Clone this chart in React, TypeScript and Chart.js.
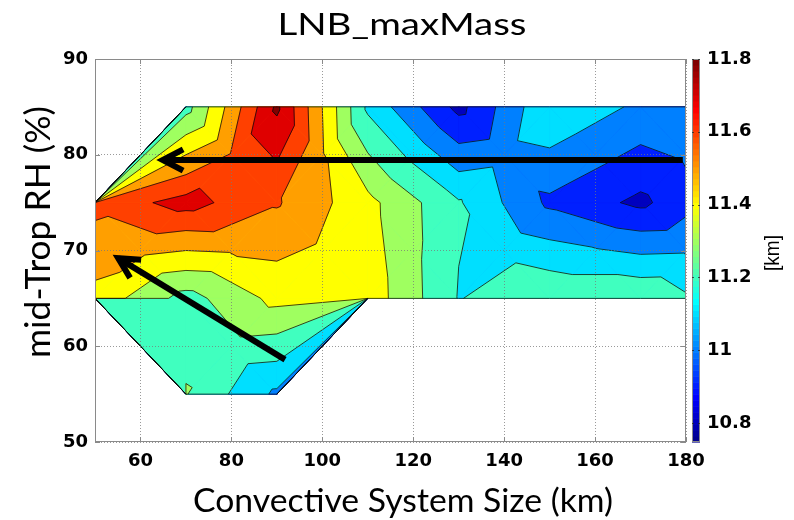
import { useEffect, useRef } from 'react';
import { Chart, registerables } from 'chart.js';

Chart.register(...registerables);

// Grid of convective system size (km) by mid-tropospheric RH (%)
const SIZE_KM = [50, 70, 90, 110, 130, 150, 170, 190];
const RH_PCT = [55, 65, 75, 85];

// Level of neutral buoyancy at max mass flux (km); NaN = no samples
const LNB_RH55 = [NaN, 11.305, 11.08, NaN, NaN, NaN, NaN, NaN];
const LNB_RH65 = [11.47, 11.26, 11.43, 11.46, 11.195, 11.29, 11.29, 11.14];
const LNB_RH75 = [11.63, 11.74, 11.61, 11.43, 11.21, 10.98, 10.877, 11.05];
const LNB_RH85 = [NaN, 11.26, 11.82, 11.18, 10.87, 11.19, 11.08, 11.05];

const CONTOUR_LEVELS = [10.8, 10.9, 11.0, 11.1, 11.2, 11.3, 11.4, 11.5, 11.6, 11.7, 11.8];
const COLOR_MIN = 10.748;
const COLOR_MAX = 11.8;

const X_TICKS = [60, 80, 100, 120, 140, 160, 180];
const Y_TICKS = [50, 60, 70, 80, 90];
const CB_TICKS = [10.8, 11, 11.2, 11.4, 11.6, 11.8];

// Annotation arrows (data coordinates)
const ARROW_TAIL_X = [179.3, 91.8];
const ARROW_TAIL_Y = [79.45, 58.6];
const ARROW_TIP_X = [64.9, 55.1];
const ARROW_TIP_Y = [79.45, 69.2];

const GRID_ROWS = [LNB_RH55, LNB_RH65, LNB_RH75, LNB_RH85];

type Vtx = { x: number; y: number; v: number; on?: boolean };

// MATLAB-style 64-entry jet colormap
function jet64(i: number): string {
  const u = (k: number) => (k < 1 || k > 47 ? 0 : k <= 16 ? k / 16 : k <= 31 ? 1 : (48 - k) / 16);
  const r = Math.round(u(i - 24) * 255);
  const g = Math.round(u(i - 8) * 255);
  const b = Math.round(u(i + 8) * 255);
  return `rgb(${r},${g},${b})`;
}

function colorFor(v: number): string {
  const idx = Math.min(64, Math.max(1, Math.floor(((v - COLOR_MIN) / (COLOR_MAX - COLOR_MIN)) * 64) + 1));
  return jet64(idx);
}

function crossing(a: Vtx, b: Vtx, level: number): Vtx {
  if (!Number.isFinite(a.v)) return { x: b.x, y: b.y, v: level, on: true };
  if (!Number.isFinite(b.v)) return { x: a.x, y: a.y, v: level, on: true };
  const t = (level - a.v) / (b.v - a.v);
  return { x: a.x + t * (b.x - a.x), y: a.y + t * (b.y - a.y), v: level, on: true };
}

function clipAbove(poly: Vtx[], level: number): Vtx[] {
  const out: Vtx[] = [];
  for (let k = 0; k < poly.length; k++) {
    const a = poly[k];
    const b = poly[(k + 1) % poly.length];
    const ia = a.v >= level;
    const ib = b.v >= level;
    if (ia) out.push({ x: a.x, y: a.y, v: a.v });
    if (ia !== ib) out.push(crossing(a, b, level));
  }
  return out;
}

// Region of a patch at or above a level; saddle cells keep the high corners apart
function regionsAbove(poly: Vtx[], level: number): Vtx[][] {
  const p = clipAbove(poly, level);
  if (p.length < 3) return [];
  const n = p.length;
  const onCount = p.filter((q) => q.on).length;
  if (onCount === 4) {
    let start = 0;
    for (let i = 0; i < n; i++) {
      if (p[i].on && p[(i - 1 + n) % n].on) {
        start = i;
        break;
      }
    }
    const rot = [...p.slice(start), ...p.slice(0, start)];
    for (let i = 1; i < rot.length - 1; i++) {
      if (rot[i].on && rot[i + 1].on) return [rot.slice(0, i + 1), rot.slice(i + 1)];
    }
  }
  return [p];
}

// Split the grid into patches: full cells into 4 triangles around the cell mean,
// cells with one missing corner keep that corner at -Infinity
function buildPatches() {
  const patches: Vtx[][] = [];
  const edges = new Map<string, [Vtx, Vtx]>();
  const counts = new Map<string, number>();
  for (let j = 0; j < RH_PCT.length - 1; j++) {
    for (let i = 0; i < SIZE_KM.length - 1; i++) {
      const corners: Vtx[] = [
        { x: SIZE_KM[i], y: RH_PCT[j], v: GRID_ROWS[j][i] },
        { x: SIZE_KM[i + 1], y: RH_PCT[j], v: GRID_ROWS[j][i + 1] },
        { x: SIZE_KM[i + 1], y: RH_PCT[j + 1], v: GRID_ROWS[j + 1][i + 1] },
        { x: SIZE_KM[i], y: RH_PCT[j + 1], v: GRID_ROWS[j + 1][i] },
      ];
      const valid = corners.filter((c) => Number.isFinite(c.v));
      if (valid.length < 3) continue;
      for (let k = 0; k < valid.length; k++) {
        const a = valid[k];
        const b = valid[(k + 1) % valid.length];
        const key = [a, b]
          .map((q) => `${q.x},${q.y}`)
          .sort()
          .join('|');
        counts.set(key, (counts.get(key) || 0) + 1);
        edges.set(key, [a, b]);
      }
      if (valid.length === 3) {
        patches.push(corners.map((c) => (Number.isFinite(c.v) ? c : { ...c, v: -Infinity })));
      } else {
        const mid: Vtx = {
          x: (corners[0].x + corners[1].x) / 2,
          y: (corners[0].y + corners[3].y) / 2,
          v: corners.reduce((s, c) => s + c.v, 0) / 4,
        };
        for (let k = 0; k < 4; k++) patches.push([corners[k], corners[(k + 1) % 4], mid]);
      }
    }
  }
  const outline: [Vtx, Vtx][] = [];
  counts.forEach((n, key) => {
    if (n === 1) outline.push(edges.get(key)!);
  });
  return { patches, outline };
}

const contourPlugin = {
  id: 'filledContour',
  beforeDatasetsDraw(chart: any) {
    const { ctx, chartArea, scales } = chart;
    const xs = scales.x;
    const ys = scales.y;
    const px = (p: Vtx) => [xs.getPixelForValue(p.x), ys.getPixelForValue(p.y)];
    const { patches, outline } = buildPatches();

    ctx.save();
    ctx.beginPath();
    ctx.rect(chartArea.left, chartArea.top, chartArea.right - chartArea.left, chartArea.bottom - chartArea.top);
    ctx.clip();
    ctx.lineJoin = 'round';

    const fillRegions = (level: number, color: string) => {
      ctx.fillStyle = color;
      ctx.strokeStyle = color;
      ctx.lineWidth = 0.7;
      for (const poly of patches) {
        for (const part of regionsAbove(poly, level)) {
          if (part.length < 3) continue;
          ctx.beginPath();
          part.forEach((p, k) => {
            const [X, Y] = px(p);
            if (k === 0) ctx.moveTo(X, Y);
            else ctx.lineTo(X, Y);
          });
          ctx.closePath();
          ctx.fill();
          ctx.stroke();
        }
      }
    };

    // stacked fills: whole domain first, then each level on top
    fillRegions(-1e9, colorFor(COLOR_MIN));
    for (const lv of CONTOUR_LEVELS) fillRegions(lv, colorFor(lv));

    ctx.strokeStyle = 'rgba(10,10,10,0.9)';
    ctx.lineWidth = 0.85;
    ctx.beginPath();
    for (const poly of patches) {
      for (const lv of CONTOUR_LEVELS) {
        for (const part of regionsAbove(poly, lv)) {
          for (let k = 0; k < part.length; k++) {
            const a = part[k];
            const b = part[(k + 1) % part.length];
            if (a.on && b.on) {
              const [x1, y1] = px(a);
              const [x2, y2] = px(b);
              ctx.moveTo(x1, y1);
              ctx.lineTo(x2, y2);
            }
          }
        }
      }
    }
    for (const [a, b] of outline) {
      const [x1, y1] = px(a);
      const [x2, y2] = px(b);
      ctx.moveTo(x1, y1);
      ctx.lineTo(x2, y2);
    }
    ctx.stroke();
    ctx.restore();
  },
};

function drawFittedText(
  ctx: CanvasRenderingContext2D,
  text: string,
  x: number,
  y: number,
  font: string,
  width: number,
  rotation: number,
) {
  ctx.save();
  ctx.font = font;
  const w = ctx.measureText(text).width;
  ctx.translate(x, y);
  ctx.rotate(rotation);
  ctx.scale(width / w, 1);
  ctx.textAlign = 'center';
  ctx.textBaseline = 'alphabetic';
  ctx.fillStyle = '#000';
  ctx.fillText(text, 0, 0);
  ctx.restore();
}

const overlayPlugin = {
  id: 'overlay',
  afterDraw(chart: any) {
    const { ctx, chartArea, scales } = chart;
    const { left, right, top, bottom } = chartArea;
    const xs = scales.x;
    const ys = scales.y;
    const cb = scales.cb;

    // axes box with inward ticks
    ctx.save();
    ctx.strokeStyle = '#8a8a8a';
    ctx.lineWidth = 1;
    ctx.strokeRect(left + 0.5, top + 0.5, right - left - 1, bottom - top - 1);
    ctx.beginPath();
    for (const t of X_TICKS) {
      const X = Math.round(xs.getPixelForValue(t)) + 0.5;
      ctx.moveTo(X, bottom);
      ctx.lineTo(X, bottom - 5);
      ctx.moveTo(X, top);
      ctx.lineTo(X, top + 5);
    }
    for (const t of Y_TICKS) {
      const Y = Math.round(ys.getPixelForValue(t)) + 0.5;
      ctx.moveTo(left, Y);
      ctx.lineTo(left + 5, Y);
      ctx.moveTo(right, Y);
      ctx.lineTo(right - 5, Y);
    }
    ctx.stroke();

    // colour bar
    const cbL = right + 6;
    const cbW = 8;
    for (let i = 0; i < 64; i++) {
      const v0 = COLOR_MIN + ((COLOR_MAX - COLOR_MIN) * i) / 64;
      const v1 = COLOR_MIN + ((COLOR_MAX - COLOR_MIN) * (i + 1)) / 64;
      const y0 = cb.getPixelForValue(v0);
      const y1 = cb.getPixelForValue(v1);
      ctx.fillStyle = jet64(i + 1);
      ctx.fillRect(cbL, y1, cbW, y0 - y1 + 0.6);
    }
    ctx.strokeStyle = '#8a8a8a';
    ctx.strokeRect(cbL + 0.5, top + 0.5, cbW - 1, bottom - top - 1);
    ctx.beginPath();
    ctx.strokeStyle = 'rgba(40,40,40,0.8)';
    for (const t of CB_TICKS) {
      const Y = Math.round(cb.getPixelForValue(t)) + 0.5;
      ctx.moveTo(cbL, Y);
      ctx.lineTo(cbL + 2, Y);
      ctx.moveTo(cbL + cbW, Y);
      ctx.lineTo(cbL + cbW - 2, Y);
    }
    ctx.stroke();

    // annotation arrows
    ctx.strokeStyle = '#000';
    ctx.lineWidth = 6;
    ctx.lineCap = 'butt';
    for (let k = 0; k < ARROW_TIP_X.length; k++) {
      const x0 = xs.getPixelForValue(ARROW_TAIL_X[k]);
      const y0 = ys.getPixelForValue(ARROW_TAIL_Y[k]);
      const x1 = xs.getPixelForValue(ARROW_TIP_X[k]);
      const y1 = ys.getPixelForValue(ARROW_TIP_Y[k]);
      const ang = Math.atan2(y1 - y0, x1 - x0);
      ctx.beginPath();
      ctx.moveTo(x0, y0);
      ctx.lineTo(x1, y1);
      ctx.stroke();
      ctx.beginPath();
      const head = 23;
      const spread = 0.48;
      ctx.moveTo(x1 - head * Math.cos(ang - spread), y1 - head * Math.sin(ang - spread));
      ctx.lineTo(x1, y1);
      ctx.lineTo(x1 - head * Math.cos(ang + spread), y1 - head * Math.sin(ang + spread));
      ctx.lineJoin = 'miter';
      ctx.stroke();
    }
    ctx.restore();

    // titles
    drawFittedText(ctx, 'LNB_maxMass', 402, 35, '31px Lato', 249, 0);
    drawFittedText(ctx, 'Convective System Size (km)', 403, 512, '32px Lato', 420, 0);
    drawFittedText(ctx, 'mid-Trop RH (%)', 50, 232, '34px Lato', 252, -Math.PI / 2);
    drawFittedText(ctx, '[km]', 779, 253, '20px "Liberation Sans"', 36, -Math.PI / 2);
  },
};

const tickFont = { family: '"DejaVu Sans"', weight: 'bold' as const, size: 18 };

export default function App() {
  const canvasRef = useRef<HTMLCanvasElement>(null);

  useEffect(() => {
    const canvas = canvasRef.current;
    if (!canvas) return;
    const nodes: { x: number; y: number }[] = [];
    GRID_ROWS.forEach((row, j) =>
      row.forEach((v, i) => {
        if (Number.isFinite(v)) nodes.push({ x: SIZE_KM[i], y: RH_PCT[j] });
      }),
    );

    const chart = new Chart(canvas, {
      type: 'scatter',
      data: {
        datasets: [{ data: nodes, pointRadius: 0, pointHoverRadius: 0, showLine: false }],
      },
      options: {
        animation: false,
        responsive: false,
        devicePixelRatio: 1,
        events: [],
        layout: { padding: { top: 59, left: 0, right: 0, bottom: 0 } },
        plugins: { legend: { display: false }, tooltip: { enabled: false }, title: { display: false } },
        scales: {
          x: {
            type: 'linear',
            position: 'bottom',
            min: 50,
            max: 180,
            afterBuildTicks: (s: any) => {
              s.ticks = X_TICKS.map((value) => ({ value }));
            },
            afterFit: (s: any) => {
              s.height = 78;
            },
            ticks: { font: tickFont, color: '#000', padding: 9, autoSkip: false, maxRotation: 0, callback: (v: any) => String(v) },
            grid: { z: 1, color: 'rgba(120,120,120,0.75)', lineWidth: 1, drawTicks: false },
            border: { display: false, dash: [1, 2] },
          },
          y: {
            type: 'linear',
            position: 'left',
            min: 50,
            max: 90,
            afterBuildTicks: (s: any) => {
              s.ticks = Y_TICKS.map((value) => ({ value }));
            },
            afterFit: (s: any) => {
              s.width = 95;
            },
            ticks: { font: tickFont, color: '#000', padding: 7, autoSkip: false, callback: (v: any) => String(v) },
            grid: { z: 1, color: 'rgba(120,120,120,0.75)', lineWidth: 1, drawTicks: false },
            border: { display: false, dash: [1, 2] },
          },
          cb: {
            type: 'linear',
            position: 'right',
            min: COLOR_MIN,
            max: COLOR_MAX,
            afterBuildTicks: (s: any) => {
              s.ticks = CB_TICKS.map((value) => ({ value }));
            },
            afterFit: (s: any) => {
              s.width = 108;
            },
            ticks: { font: tickFont, color: '#000', padding: 21, autoSkip: false, callback: (v: any) => String(v) },
            grid: { display: false, drawTicks: false, drawOnChartArea: false },
            border: { display: false },
          },
        },
      },
      plugins: [contourPlugin, overlayPlugin],
    });
    return () => chart.destroy();
  }, []);

  return (
    <div style={{ position: 'fixed', left: 0, top: 0, width: 794, height: 520, background: '#fff' }}>
      <canvas ref={canvasRef} width={794} height={520} style={{ display: 'block', width: 794, height: 520 }} />
    </div>
  );
}
